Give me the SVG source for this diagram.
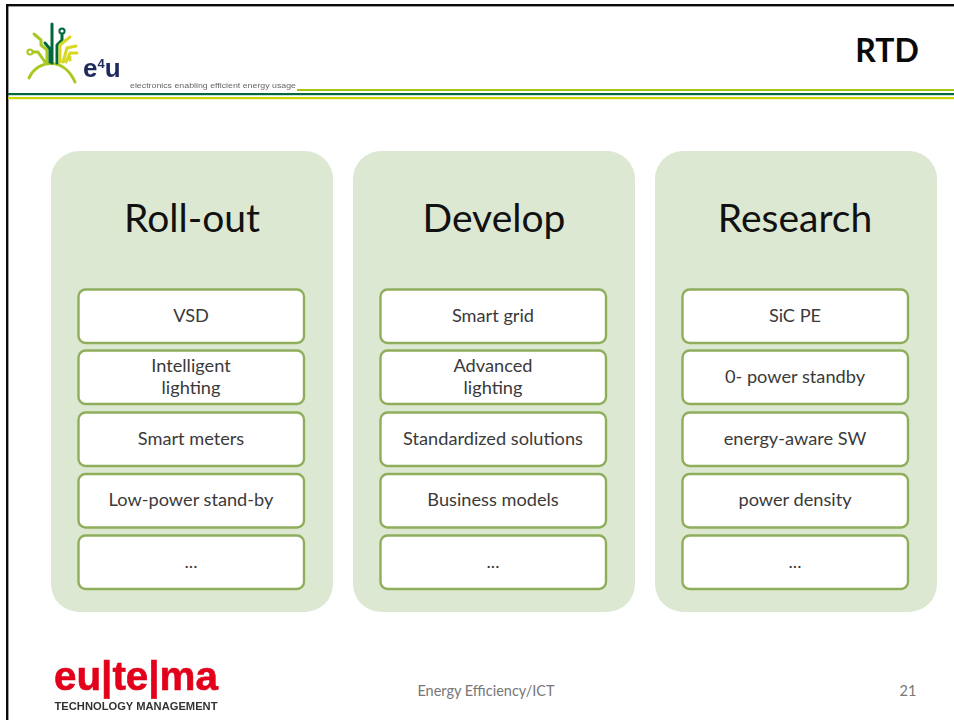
<svg xmlns="http://www.w3.org/2000/svg" width="954" height="720" viewBox="0 0 954 720">
<defs><filter id="soft" x="-5%" y="-5%" width="110%" height="110%"><feGaussianBlur stdDeviation="0.45"/></filter></defs>
<style>
text{font-family:"Lato","Open Sans","Liberation Sans",sans-serif;text-anchor:middle}
.panel{fill:#dde8d3}
.box{fill:#fff;stroke:#8fae5c;stroke-width:2.4}
.head{font-size:39px;fill:#111}
.lbl{font-size:18.2px;fill:#3a3a3a}
.foot{font-size:14.5px;fill:#777}
.tree{fill:none;stroke-linecap:round;stroke-linejoin:round;stroke-width:3}
</style>
<rect width="954" height="720" fill="#fff"/>
<g id="frame">
<rect x="6" y="4" width="948" height="2.4" fill="#0a0a0a"/>
<rect x="6" y="4" width="2.4" height="716" fill="#0a0a0a"/>
<rect x="297" y="89" width="657" height="2" fill="#a4c410"/>
<rect x="8" y="93" width="946" height="2.2" fill="#04693a"/>
<rect x="8" y="97" width="946" height="2.2" fill="#cdd400"/>
</g>
<g id="logo-e4u" filter="url(#soft)">
<path class="tree" stroke="#a8c820" d="M29 78C38 59 64 57 75 82"/>
<path class="tree" stroke="#a8c820" d="M34 34L41 40V45L47 50V62M30 52H38L45 62"/>
<path class="tree" stroke="#04693a" d="M52 24V63M62 33V40L57 45V63M45 43L50 49V62"/>
<path class="tree" stroke="#d8d820" d="M60 62V45L70 37M63 62L67 48L76 46M66 62L70 53H77M70 57V60"/>
<circle cx="62" cy="31" r="2.6" fill="#fff" stroke="#04693a" stroke-width="2"/>
<circle cx="30" cy="52" r="2.6" fill="#fff" stroke="#a8c820" stroke-width="2"/>
<text x="83" y="77" style="text-anchor:start;font-family:'Liberation Sans',sans-serif;font-weight:700;font-size:26px;fill:#1c2a5c">e<tspan dy="-9" font-size="13">4</tspan><tspan dy="9">u</tspan></text>
<text x="213" y="88" textLength="166" lengthAdjust="spacingAndGlyphs" style="font-family:'Liberation Sans',sans-serif;font-size:8px;fill:#666">electronics enabling efficient energy usage</text>
</g>
<text id="title" x="887" y="62" style="font-size:32px;font-weight:700;fill:#0a0a0a">RTD</text>
<g id="rollout">
<rect class="panel" x="51" y="151" width="282" height="461" rx="28"/>
<text class="head" x="192" y="232">Roll-out</text>
</g>
<g id="rollout-1"><rect class="box" x="78.5" y="289.5" width="225.500" height="53.500" rx="7"/><text class="lbl" x="191" y="322">VSD</text></g>
<g id="rollout-2"><rect class="box" x="78.5" y="350.500" width="225.500" height="53.500" rx="7"/><text class="lbl" x="191" y="372">Intelligent</text><text class="lbl" x="191" y="394">lighting</text></g>
<g id="rollout-3"><rect class="box" x="78.5" y="412.500" width="225.500" height="53.500" rx="7"/><text class="lbl" x="191" y="445">Smart meters</text></g>
<g id="rollout-4"><rect class="box" x="78.5" y="474" width="225.500" height="53.500" rx="7"/><text class="lbl" x="191" y="506">Low-power stand-by</text></g>
<g id="rollout-5"><rect class="box" x="78.5" y="535.500" width="225.500" height="53.500" rx="7"/><text class="lbl" x="191" y="568">...</text></g>
<g id="develop">
<rect class="panel" x="353" y="151" width="282" height="461" rx="28"/>
<text class="head" x="494" y="232">Develop</text>
</g>
<g id="develop-1"><rect class="box" x="380.500" y="289.5" width="225.500" height="53.500" rx="7"/><text class="lbl" x="493" y="322">Smart grid</text></g>
<g id="develop-2"><rect class="box" x="380.500" y="350.500" width="225.500" height="53.500" rx="7"/><text class="lbl" x="493" y="372">Advanced</text><text class="lbl" x="493" y="394">lighting</text></g>
<g id="develop-3"><rect class="box" x="380.500" y="412.500" width="225.500" height="53.500" rx="7"/><text class="lbl" x="493" y="445">Standardized solutions</text></g>
<g id="develop-4"><rect class="box" x="380.500" y="474" width="225.500" height="53.500" rx="7"/><text class="lbl" x="493" y="506">Business models</text></g>
<g id="develop-5"><rect class="box" x="380.500" y="535.500" width="225.500" height="53.500" rx="7"/><text class="lbl" x="493" y="568">...</text></g>
<g id="research">
<rect class="panel" x="655" y="151" width="282" height="461" rx="28"/>
<text class="head" x="795" y="232">Research</text>
</g>
<g id="research-1"><rect class="box" x="682.500" y="289.5" width="225.500" height="53.500" rx="7"/><text class="lbl" x="795" y="322">SiC PE</text></g>
<g id="research-2"><rect class="box" x="682.500" y="350.500" width="225.500" height="53.500" rx="7"/><text class="lbl" x="795" y="383">0- power standby</text></g>
<g id="research-3"><rect class="box" x="682.500" y="412.500" width="225.500" height="53.500" rx="7"/><text class="lbl" x="795" y="445">energy-aware SW</text></g>
<g id="research-4"><rect class="box" x="682.500" y="474" width="225.500" height="53.500" rx="7"/><text class="lbl" x="795" y="506">power density</text></g>
<g id="research-5"><rect class="box" x="682.500" y="535.500" width="225.500" height="53.500" rx="7"/><text class="lbl" x="795" y="568">...</text></g>
<g id="logo-eutema" filter="url(#soft)">
<text x="136" y="690" textLength="164" lengthAdjust="spacingAndGlyphs" style="font-family:'Liberation Sans',sans-serif;font-weight:700;font-size:41px;fill:#e2001a;stroke:#e2001a;stroke-width:.6">eu|te|ma</text>
<text x="136" y="710" textLength="163" lengthAdjust="spacingAndGlyphs" style="font-family:'Liberation Sans',sans-serif;font-weight:700;font-size:10.5px;fill:#333">TECHNOLOGY MANAGEMENT</text>
</g>
<g id="footer">
<text class="foot" x="486" y="696">Energy Efficiency/ICT</text>
<text class="foot" x="908" y="696">21</text>
</g>
</svg>
